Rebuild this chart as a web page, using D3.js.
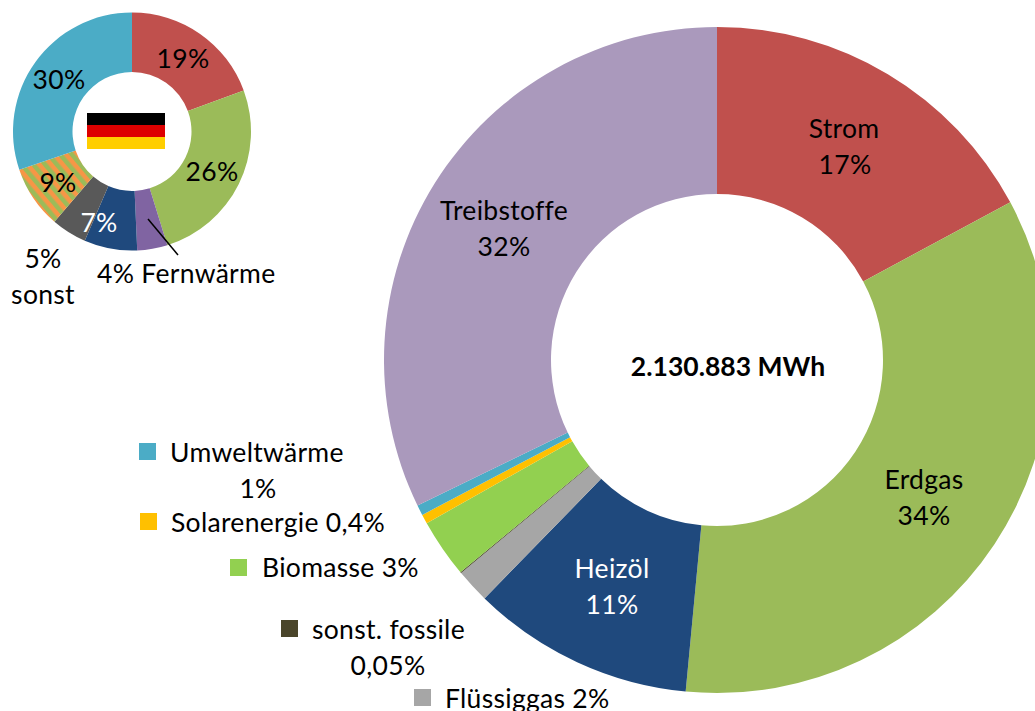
<!DOCTYPE html>
<html>
<head>
<meta charset="utf-8">
<script src="https://d3js.org/d3.v7.min.js"></script>
<style>
html, body { margin: 0; padding: 0; background: #fff; overflow: hidden; }
text { font-family: Lato, "Open Sans", sans-serif; font-size: 26.5px; letter-spacing: 0.3px; fill: #000; }
</style>
</head>
<body>
<div id="chart"></div>
<script>
// Main chart (Energieverbrauch in MWh, share in percent)
const categories = ["Strom", "Erdgas", "Heizöl", "Flüssiggas", "sonst. fossile", "Biomasse", "Solarenergie", "Umweltwärme", "Treibstoffe"];
const shares = [17.15, 34.35, 10.8, 1.65, 0.05, 2.85, 0.45, 0.5, 32.2];
const total = "2.130.883 MWh";

// Small chart (Deutschland)
const deCategories = ["Strom", "Erdgas", "Fernwärme", "Heizöl", "sonst", "Kohle", "Treibstoffe"];
const deShares = [19.4, 25.8, 4.1, 7.2, 4.8, 8.5, 30.2];

const colors = ["#C0504D", "#9BBB59", "#1F497D", "#A6A6A6", "#4A452A", "#92D050", "#FFC000", "#4BACC6", "#AA99BC"];
const deColors = ["#C0504D", "#9BBB59", "#8064A2", "#1F497D", "#595959", "url(#hatch)", "#4BACC6"];

const width = 1035;
const height = 711;

const svg = d3.select("#chart").append("svg")
    .attr("width", width)
    .attr("height", height)
    .style("display", "block");

const pattern = svg.append("defs").append("pattern")
    .attr("id", "hatch")
    .attr("patternUnits", "userSpaceOnUse")
    .attr("width", 9)
    .attr("height", 9)
    .attr("patternTransform", "rotate(50)");
pattern.append("rect").attr("width", 9).attr("height", 9).attr("fill", "#9BBB59");
pattern.append("rect").attr("width", 9).attr("height", 4.5).attr("fill", "#F79646");

function drawDonut(values, names, fills, cx, cy, inner, outer) {
    const pie = d3.pie().sort(null).value(d => d);
    const arc = d3.arc().innerRadius(inner).outerRadius(outer);
    const color = d3.scaleOrdinal().domain(names).range(fills);

    svg.append("g")
        .attr("transform", `translate(${cx},${cy})`)
        .selectAll("path")
        .data(pie(values))
        .join("path")
        .attr("fill", (d, i) => color(names[i]))
        .attr("d", arc);
}

drawDonut(shares, categories, colors, 717, 360, 166, 333);
drawDonut(deShares, deCategories, deColors, 132, 131.5, 59.5, 119);

// flag in the hole of the small chart
const flag = svg.append("g");
flag.selectAll("rect")
    .data(["#000000", "#DD0000", "#FFCE00"])
    .join("rect")
    .attr("x", 87)
    .attr("y", (d, i) => 113 + i * 12)
    .attr("width", 78)
    .attr("height", 12)
    .attr("fill", d => d);

// leader line for Fernwärme
svg.append("line")
    .attr("x1", 148).attr("y1", 219)
    .attr("x2", 178).attr("y2", 255)
    .attr("stroke", "#000")
    .attr("stroke-width", 1.5);

function label(str, x, y, anchor, fill, weight) {
    svg.append("text")
        .attr("x", x)
        .attr("y", y)
        .attr("text-anchor", anchor || "middle")
        .style("fill", fill || "#000")
        .style("font-weight", weight || "normal")
        .style("letter-spacing", weight ? "0" : null)
        .text(str);
}

label("Strom", 844, 138);
label("17%", 845, 174);
label("Erdgas", 924, 489);
label("34%", 924, 525);
label("Heizöl", 612, 578, "middle", "#fff");
label("11%", 612, 614, "middle", "#fff");
label("Treibstoffe", 504, 220);
label("32%", 504, 256);
label(total, 728, 376, "middle", "#000", "bold");

label("19%", 183, 68);
label("30%", 59, 89);
label("26%", 212, 181);
label("9%", 58, 192);
label("7%", 99, 232, "middle", "#fff");
label("5%", 43, 268);
label("sonst", 43, 304);
label("4% Fernwärme", 97, 283, "start");

// legend entries
const swatches = [
    ["#4BACC6", 139, 443], ["#FFC000", 140, 513], ["#92D050", 230, 559],
    ["#4A452A", 281, 620], ["#A6A6A6", 414, 689]
];
svg.append("g").selectAll("rect")
    .data(swatches)
    .join("rect")
    .attr("x", d => d[1])
    .attr("y", d => d[2])
    .attr("width", 17)
    .attr("height", 17)
    .attr("fill", d => d[0]);

label("Umweltwärme", 170, 462, "start");
label("1%", 258, 498);
label("Solarenergie 0,4%", 171, 532, "start");
label("Biomasse 3%", 262, 577, "start");
label("sonst. fossile", 312, 639, "start");
label("0,05%", 388, 675);
label("Flüssiggas 2%", 445, 708, "start");
</script>
</body>
</html>
